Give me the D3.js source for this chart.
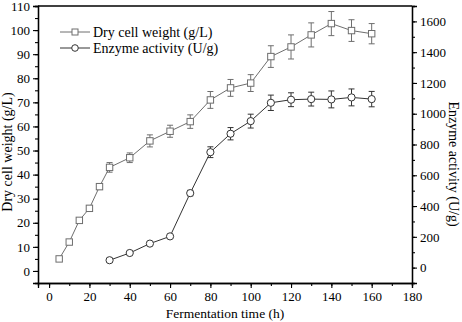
<!DOCTYPE html>
<html>
<head>
<meta charset="utf-8">
<script src="https://cdn.jsdelivr.net/npm/d3@7"></script>
<style>
  body { margin: 0; background: #fff; }
  svg text { font-family: "Liberation Serif", "Times New Roman", serif; }
</style>
</head>
<body>
<div id="chart"></div>
<script>
// fermentation time (h)
const timeDcw = [5, 10, 15, 20, 25, 30, 40, 50, 60, 70, 80, 90, 100, 110, 120, 130, 140, 150, 160];
const dcw = [5, 12, 21, 26, 35, 43, 47, 54, 58, 62, 71, 76, 78, 89, 93, 98, 102.7, 99.8, 98.5];
const dcwErr = [0.6, 0.8, 0.8, 1, 1.2, 2, 2, 2.5, 2.5, 2.8, 3.5, 3.5, 3.5, 4.5, 5, 5, 5, 4.5, 4.2];

const timeEnz = [30, 40, 50, 60, 70, 80, 90, 100, 110, 120, 130, 140, 150, 160];
const enzyme = [48, 95, 156, 203, 484, 750, 870, 952, 1071, 1091, 1095, 1093, 1106, 1095];
const enzErr = [8, 8, 10, 10, 18, 35, 40, 45, 50, 45, 45, 55, 55, 50];

const xTicks = [0, 20, 40, 60, 80, 100, 120, 140, 160, 180];
const leftTicks = [0, 10, 20, 30, 40, 50, 60, 70, 80, 90, 100, 110];
const rightTicks = [0, 200, 400, 600, 800, 1000, 1200, 1400, 1600];

const W = 462, H = 322;
const plot = { left: 38, right: 412, top: 6, bottom: 283 };
const dcwColor = "#6e6e6e", enzColor = "#333";
const serif = "'Liberation Serif', 'Times New Roman', serif";

const svg = d3.select("#chart").append("svg")
    .attr("width", W)
    .attr("height", H)
    .attr("font-family", serif);

const x = d3.scaleLinear().domain([-5.5, 180]).range([plot.left, plot.right]);
const yL = d3.scaleLinear().domain([-5, 110]).range([plot.bottom, plot.top]);
const yR = d3.scaleLinear().domain([-100, 1700]).range([plot.bottom, plot.top]);

// top border
svg.append("line")
    .attr("x1", plot.left).attr("x2", plot.right)
    .attr("y1", plot.top).attr("y2", plot.top)
    .attr("stroke", "#000").attr("stroke-width", 1.3);

function styleAxis(g) {
    g.attr("font-family", serif);
    g.select(".domain").attr("stroke", "#000").attr("stroke-width", 1.3);
    g.selectAll("line").attr("stroke", "#000").attr("stroke-width", 1.1);
    g.selectAll("text").style("font-size", "13px").attr("fill", "#000");
}

// minor ticks first
svg.append("g")
    .attr("transform", `translate(0,${plot.bottom})`)
    .call(d3.axisBottom(x).tickValues(d3.range(0, 181, 10)).tickSize(3).tickFormat(""))
    .call(styleAxis);
svg.append("g")
    .attr("transform", `translate(${plot.left},0)`)
    .call(d3.axisLeft(yL).tickValues(d3.range(0, 111, 5)).tickSize(3).tickFormat(""))
    .call(styleAxis);
svg.append("g")
    .attr("transform", `translate(${plot.right},0)`)
    .call(d3.axisRight(yR).tickValues(d3.range(-100, 1701, 100)).tickSize(3).tickFormat(""))
    .call(styleAxis);

// major ticks
svg.append("g")
    .attr("transform", `translate(0,${plot.bottom})`)
    .call(d3.axisBottom(x).tickValues(xTicks).tickSize(5).tickPadding(4))
    .call(styleAxis);
svg.append("g")
    .attr("transform", `translate(${plot.left},0)`)
    .call(d3.axisLeft(yL).tickValues(leftTicks).tickSize(5).tickPadding(3))
    .call(styleAxis);
svg.append("g")
    .attr("transform", `translate(${plot.right},0)`)
    .call(d3.axisRight(yR).tickValues(rightTicks).tickFormat(d3.format("d")).tickSize(5).tickPadding(3))
    .call(styleAxis);

// axis titles
svg.append("text")
    .attr("x", (plot.left + plot.right) / 2)
    .attr("y", 318)
    .attr("text-anchor", "middle")
    .style("font-size", "13.5px")
    .text("Fermentation time (h)");

svg.append("text")
    .attr("transform", `translate(12,152) rotate(-90)`)
    .attr("text-anchor", "middle")
    .style("font-size", "14px")
    .text("Dry cell weight (g/L)");

svg.append("text")
    .attr("transform", `translate(449,164) rotate(90)`)
    .attr("text-anchor", "middle")
    .style("font-size", "14px")
    .text("Enzyme activity (U/g)");

// series
const dcwData = timeDcw.map((t, i) => ({ t: t, v: dcw[i], e: dcwErr[i] }));
const enzData = timeEnz.map((t, i) => ({ t: t, v: enzyme[i], e: enzErr[i] }));

function drawSeries(data, yScale, color, shape) {
    const g = svg.append("g");
    g.append("path")
        .datum(data)
        .attr("fill", "none")
        .attr("stroke", color)
        .attr("stroke-width", 1)
        .attr("d", d3.line().x(d => x(d.t)).y(d => yScale(d.v)));

    // error bars
    const eb = g.selectAll(".eb").data(data).enter().append("g")
        .attr("stroke", color).attr("stroke-width", 1);
    eb.append("line")
        .attr("x1", d => x(d.t)).attr("x2", d => x(d.t))
        .attr("y1", d => yScale(d.v - d.e)).attr("y2", d => yScale(d.v + d.e));
    eb.append("line")
        .attr("x1", d => x(d.t) - 3).attr("x2", d => x(d.t) + 3)
        .attr("y1", d => yScale(d.v - d.e)).attr("y2", d => yScale(d.v - d.e));
    eb.append("line")
        .attr("x1", d => x(d.t) - 3).attr("x2", d => x(d.t) + 3)
        .attr("y1", d => yScale(d.v + d.e)).attr("y2", d => yScale(d.v + d.e));

    if (shape === "square") {
        g.selectAll(".m").data(data).enter().append("rect")
            .attr("x", d => x(d.t) - 3.2).attr("y", d => yScale(d.v) - 3.2)
            .attr("width", 6.4).attr("height", 6.4)
            .attr("fill", "#fff").attr("stroke", color).attr("stroke-width", 1);
    } else {
        g.selectAll(".m").data(data).enter().append("circle")
            .attr("cx", d => x(d.t)).attr("cy", d => yScale(d.v))
            .attr("r", 3.6)
            .attr("fill", "#fff").attr("stroke", color).attr("stroke-width", 1);
    }
}

drawSeries(dcwData, yL, dcwColor, "square");
drawSeries(enzData, yR, enzColor, "circle");

// legend
const legendItems = [
    { label: "Dry cell weight (g/L)", color: dcwColor, shape: "square" },
    { label: "Enzyme activity (U/g)", color: enzColor, shape: "circle" }
];
const legend = svg.selectAll(".legend")
    .data(legendItems)
    .enter()
    .append("g")
    .attr("transform", (d, i) => `translate(60, ${32 + i * 16})`);

legend.append("line")
    .attr("x1", 0).attr("x2", 30)
    .attr("stroke", d => d.color).attr("stroke-width", 1);
legend.filter(d => d.shape === "square").append("rect")
    .attr("x", 12).attr("y", -3).attr("width", 6).attr("height", 6)
    .attr("fill", "#fff").attr("stroke", d => d.color);
legend.filter(d => d.shape === "circle").append("circle")
    .attr("cx", 15).attr("r", 3.3)
    .attr("fill", "#fff").attr("stroke", d => d.color);
legend.append("text")
    .attr("x", 33)
    .attr("y", 5)
    .style("font-size", "14px")
    .text(d => d.label);
</script>
</body>
</html>
